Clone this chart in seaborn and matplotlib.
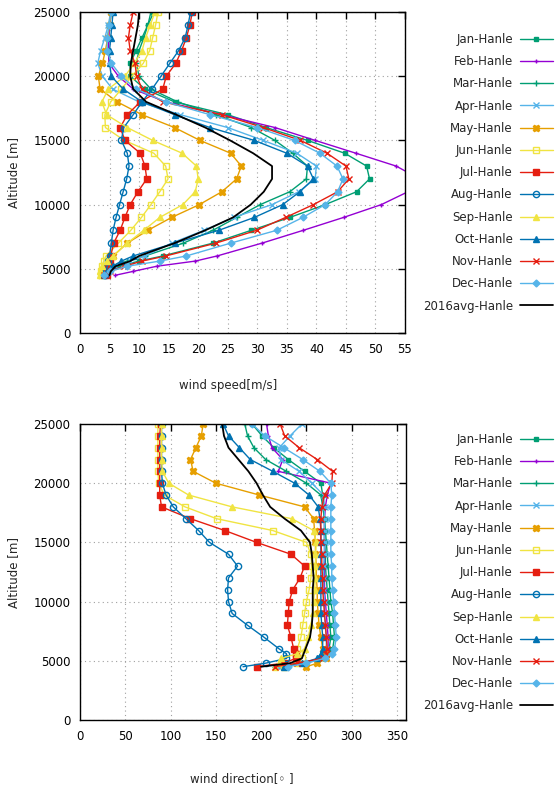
import matplotlib
matplotlib.use("Agg")
import matplotlib.pyplot as plt
import pandas as pd
import seaborn as sns

# Altitude levels of the monthly profiles (m)
alt = [4500, 4800, 5200, 5600, 6000, 7000, 8000, 9000, 10000, 11000, 12000, 13000,
       14000, 15000, 16000, 17000, 18000, 19000, 20000, 21000, 22000, 23000, 24000, 25000]

# Wind speed profiles (m/s)
jan_speed = [3.5, 4.5, 6.5, 10.0, 14.0, 22.5, 29.0, 35.5, 41.5, 46.8, 49.0, 48.5, 44.8, 38.5, 31.5, 25.0, 16.0, 11.0, 8.5, 8.5, 9.5, 10.5, 11.5, 12.5]
feb_speed = [6.0, 9.0, 13.0, 19.5, 23.2, 30.8, 37.8, 44.6, 51.0, 55.5, 57.5, 53.5, 46.7, 39.8, 33.0, 24.0, 14.5, 9.0, 6.5, 4.9, 4.8, 4.9, 5.0, 5.2]
mar_speed = [3.5, 4.0, 5.5, 8.0, 11.0, 17.5, 22.5, 26.5, 30.5, 35.5, 38.3, 38.5, 36.0, 33.0, 29.0, 23.0, 16.5, 12.0, 10.0, 9.5, 10.0, 10.8, 11.5, 12.0]
apr_speed = [4.0, 4.5, 6.0, 8.5, 11.0, 15.5, 21.0, 26.0, 32.5, 37.0, 39.8, 40.0, 36.7, 31.0, 25.0, 17.0, 10.0, 5.5, 3.8, 3.0, 3.5, 4.2, 4.8, 5.2]
may_speed = [3.5, 3.7, 4.0, 4.8, 5.6, 8.0, 11.5, 15.5, 20.2, 24.0, 26.5, 27.3, 25.5, 20.3, 16.0, 10.5, 6.3, 3.4, 3.1, 3.8, 4.3, 4.7, 5.0, 5.3]
jun_speed = [3.5, 3.6, 3.8, 4.0, 4.4, 6.5, 8.6, 10.4, 12.0, 13.5, 14.9, 14.5, 12.5, 7.5, 4.3, 4.2, 5.2, 7.0, 8.8, 10.7, 11.8, 12.3, 12.8, 13.2]
jul_speed = [4.5, 4.6, 4.8, 5.0, 5.2, 5.7, 6.8, 7.6, 8.5, 9.8, 11.3, 11.0, 10.2, 7.6, 6.8, 8.0, 10.2, 14.0, 14.6, 16.2, 17.2, 18.0, 18.6, 19.0]
aug_speed = [4.3, 4.4, 4.6, 4.8, 5.0, 5.3, 5.6, 6.1, 6.7, 7.3, 7.9, 8.3, 8.0, 7.0, 7.4, 9.0, 10.5, 12.2, 13.7, 15.2, 16.7, 17.8, 18.3, 18.7]
sep_speed = [3.3, 3.4, 3.8, 4.5, 5.6, 8.0, 10.8, 13.5, 17.4, 19.5, 20.0, 19.7, 17.3, 12.3, 8.0, 4.5, 3.7, 4.8, 7.6, 9.2, 10.5, 11.1, 11.9, 12.7]
oct_speed = [4.0, 4.5, 5.5, 7.0, 9.0, 16.0, 23.5, 29.5, 34.3, 37.2, 39.5, 38.5, 35.0, 29.5, 22.0, 16.0, 10.5, 7.3, 5.3, 5.0, 5.0, 5.2, 5.4, 5.6]
nov_speed = [4.0, 5.0, 7.5, 10.5, 14.5, 23.0, 29.9, 34.8, 39.5, 43.6, 45.5, 45.0, 41.8, 37.3, 31.0, 24.0, 14.0, 10.5, 9.6, 9.3, 8.5, 8.2, 8.5, 9.0]
dec_speed = [4.0, 5.0, 8.0, 13.5, 18.0, 25.5, 33.3, 37.7, 41.5, 43.6, 44.5, 43.5, 40.6, 36.3, 30.0, 22.0, 14.5, 9.5, 7.0, 5.3, 4.6, 4.6, 4.9, 5.3]
avg_speed = [5.0, 5.2, 6.0, 8.5, 10.0, 16.0, 21.2, 25.9, 28.9, 31.1, 32.5, 32.5, 29.3, 25.4, 21.2, 16.3, 11.2, 9.0, 8.5, 8.6, 9.0, 9.4, 9.8, 10.0]

# Wind direction profiles (degrees)
jan_dir = [225, 250, 266, 272, 275, 277, 276, 275, 274, 273, 272, 271, 271, 270, 270, 270, 269, 268, 266, 248, 230, 214, 201, 190]
feb_dir = [220, 248, 268, 272, 274, 274, 273, 272, 271, 270, 270, 270, 270, 270, 270, 270, 271, 273, 277, 219, 224, 212, 208, 206]
mar_dir = [215, 245, 268, 275, 279, 281, 280, 279, 277, 276, 275, 274, 273, 272, 271, 270, 268, 266, 250, 228, 205, 192, 185, 182]
apr_dir = [220, 245, 265, 270, 272, 272, 271, 270, 270, 269, 269, 269, 270, 270, 270, 270, 270, 269, 256, 242, 222, 220, 232, 245]
may_dir = [250, 262, 272, 270, 268, 266, 264, 263, 262, 262, 261, 261, 260, 260, 259, 258, 248, 198, 150, 125, 122, 128, 134, 136]
jun_dir = [225, 240, 245, 242, 240, 244, 246, 248, 250, 253, 255, 256, 255, 250, 213, 151, 116, 93, 87, 86, 86, 86, 86, 86]
jul_dir = [195, 225, 238, 238, 236, 233, 229, 230, 231, 235, 243, 248, 233, 195, 160, 122, 90, 88, 88, 88, 88, 88, 88, 89]
aug_dir = [180, 205, 228, 228, 220, 203, 185, 168, 164, 163, 164, 174, 164, 143, 131, 117, 103, 95, 91, 90, 90, 90, 90, 90]
sep_dir = [215, 220, 222, 240, 248, 252, 255, 257, 258, 259, 260, 260, 260, 261, 258, 234, 168, 120, 98, 91, 90, 90, 90, 90]
oct_dir = [225, 245, 262, 266, 268, 268, 267, 266, 266, 266, 266, 266, 266, 266, 266, 265, 263, 253, 237, 213, 188, 176, 164, 158]
nov_dir = [215, 240, 268, 272, 273, 272, 271, 270, 269, 268, 268, 267, 267, 266, 266, 266, 267, 270, 278, 279, 262, 242, 226, 221]
dec_dir = [230, 250, 270, 278, 281, 283, 282, 281, 280, 279, 278, 278, 277, 277, 277, 277, 277, 278, 277, 265, 246, 225, 204, 190]
avg_dir = [200, 232, 245, 247, 249, 254, 256, 257, 257, 257, 258, 257, 256, 254, 244, 226, 210, 202, 195, 186, 175, 164, 159, 157]

labels = ["Jan-Hanle", "Feb-Hanle", "Mar-Hanle", "Apr-Hanle", "May-Hanle", "Jun-Hanle",
          "Jul-Hanle", "Aug-Hanle", "Sep-Hanle", "Oct-Hanle", "Nov-Hanle", "Dec-Hanle",
          "2016avg-Hanle"]
speeds = [jan_speed, feb_speed, mar_speed, apr_speed, may_speed, jun_speed, jul_speed,
          aug_speed, sep_speed, oct_speed, nov_speed, dec_speed, avg_speed]
directions = [jan_dir, feb_dir, mar_dir, apr_dir, may_dir, jun_dir, jul_dir,
              aug_dir, sep_dir, oct_dir, nov_dir, dec_dir, avg_dir]

# line style per series: colour, marker, filled marker, marker size, line width
styles = [
    ("#009e73", "s", True, 3.5, 1.0),
    ("#9400d3", "+", True, 3.0, 1.0),
    ("#009e73", "+", True, 4.0, 1.0),
    ("#56b4e9", "x", True, 4.0, 1.0),
    ("#e69f00", "X", True, 4.5, 1.0),
    ("#f0e442", "s", False, 5.0, 1.0),
    ("#e51e10", "s", True, 5.0, 1.0),
    ("#0072b2", "o", False, 4.5, 1.0),
    ("#f0e442", "^", True, 4.5, 1.0),
    ("#0072b2", "^", True, 4.5, 1.0),
    ("#e51e10", "x", True, 4.5, 1.0),
    ("#56b4e9", "D", True, 3.5, 1.0),
    ("#000000", "", True, 0.0, 1.3),
]

sns.set_style("white")
plt.rcParams["font.family"] = ["DejaVu Sans"]
FS = 8.5

fig = plt.figure(figsize=(5.55, 7.87), dpi=100)
ax1 = fig.add_axes([80 / 555, 1 - 333 / 787, 325 / 555, 321 / 787])
ax2 = fig.add_axes([80 / 555, 1 - 720 / 787, 326 / 555, 296 / 787])


def draw_profiles(ax, values_list):
    for name, vals, (color, mk, filled, ms, lw) in zip(labels, values_list, styles):
        df = pd.DataFrame({"value": vals, "alt": alt})
        kws = dict(color=color, linewidth=lw, label=name)
        if mk:
            kws.update(marker=mk, markersize=ms, markeredgecolor=color,
                       markerfacecolor=color if filled else "none",
                       markeredgewidth=1.0)
        sns.lineplot(data=df, x="value", y="alt", sort=False, estimator=None,
                     ax=ax, **kws)


def style_axes(ax, xmax, xstep, xlabel, legend_top):
    ax.set_xlim(0, xmax)
    ax.set_ylim(0, 25000)
    ax.set_xticks(range(0, xmax + 1 if xmax == 55 else 351, xstep))
    ax.set_yticks(range(0, 25001, 5000))
    ax.grid(True, linestyle=(0, (1, 3)), color="#a0a0a0", linewidth=0.8)
    for sp in ax.spines.values():
        sp.set_visible(True)
        sp.set_color("black")
        sp.set_linewidth(1.0)
    ax.tick_params(direction="in", top=True, right=True, length=5, width=1,
                   labelsize=FS, pad=7, colors="black")
    ax.set_xlabel(xlabel, fontsize=FS)
    ax.set_ylabel("Altitude [m]", fontsize=FS)
    handles, lbls = ax.get_legend_handles_labels()
    ax.legend(handles, lbls, loc="upper right",
              bbox_to_anchor=(553 / 555, 1 - legend_top / 787),
              bbox_transform=fig.transFigure, frameon=False, markerfirst=False,
              handlelength=2.8, handletextpad=0.6, labelspacing=0.78,
              fontsize=FS, borderpad=0, borderaxespad=0, numpoints=1)


draw_profiles(ax1, speeds)
draw_profiles(ax2, directions)
style_axes(ax1, 55, 5, "wind speed[m/s]", 33)
style_axes(ax2, 360, 50, "wind direction[\u25e6 ]", 433)

ax1.xaxis.set_label_coords(0.455, -0.143)
ax1.yaxis.set_label_coords(-0.185, 0.5)
ax2.xaxis.set_label_coords(0.497, -0.176)
ax2.yaxis.set_label_coords(-0.185, 0.5)

fig.savefig("out.png", dpi=100)
